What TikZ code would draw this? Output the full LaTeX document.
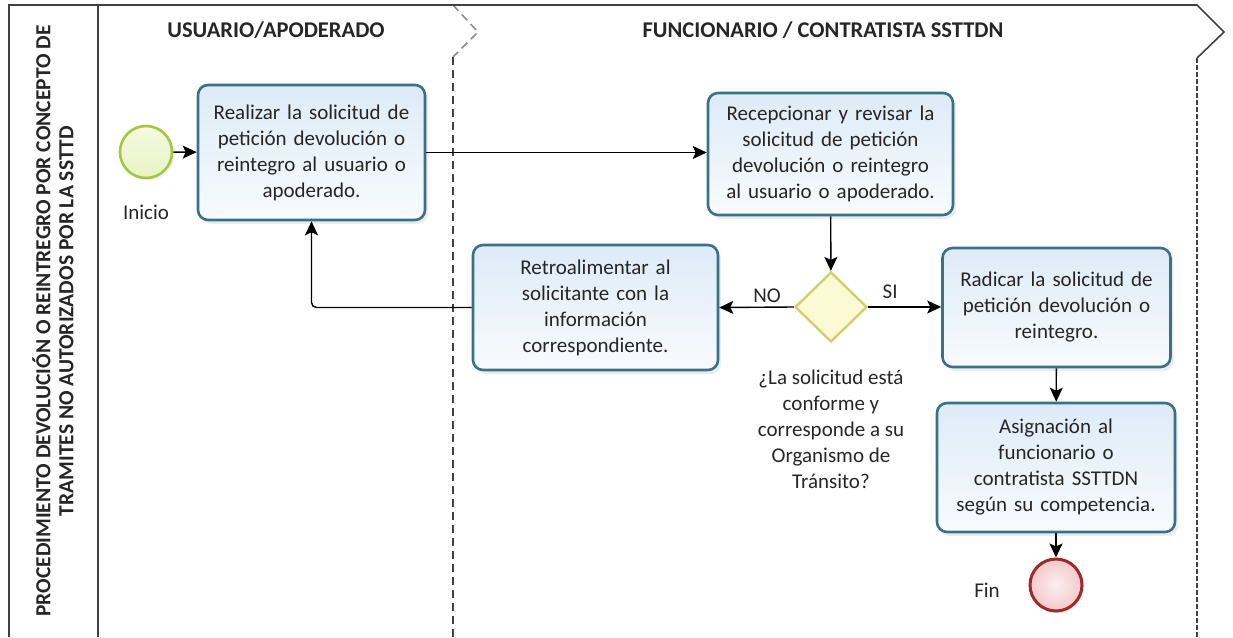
\documentclass[tikz,border=0pt]{standalone}
\usepackage{fontspec}
\setmainfont{Carlito}
\usetikzlibrary{arrows.meta,shapes.geometric,shadows}

\definecolor{taskline}{HTML}{3A7189}
\definecolor{taskfill}{HTML}{DDEBF7}
\definecolor{startline}{HTML}{A3C83C}
\definecolor{startfill}{HTML}{EAF3C4}
\definecolor{endline}{HTML}{9E2A2B}
\definecolor{endfill}{HTML}{F4C9C9}
\definecolor{gateline}{HTML}{D0D070}
\definecolor{gatefill}{HTML}{FBFAD4}
\definecolor{laneline}{HTML}{404040}

\begin{document}
\begin{tikzpicture}[x=1pt, y=-1pt,
  every node/.style={text=black!85, font=\fontsize{21}{26}\selectfont},
  task/.style={draw=taskline, line width=2.6pt, rounded corners=10pt,
    top color=taskfill, bottom color=white!80!taskfill, align=center,
    inner sep=0pt, text width=#1,
    drop shadow={opacity=0.15, shadow xshift=3pt, shadow yshift=-4pt}},
  flow/.style={line width=1.4pt, -{Stealth[length=14pt, width=13pt, inset=3pt]}},
  lane/.style={draw=laneline, line width=1.6pt},
  lanehead/.style={font=\bfseries\fontsize{22.5}{26}\selectfont}]
  \useasboundingbox (0,0) rectangle (1233,637);

  % pool and lanes
  \draw[lane] (9,637) -- (9,5) -- (453,5);
  \draw[lane] (98,5) -- (98,637);
  \draw[lane, draw=laneline!60, dash pattern=on 8pt off 5pt] (453,5) -- (478,32) -- (453,57);
  \draw[lane, dash pattern=on 8pt off 5pt] (453,57) -- (453,637);
  \draw[lane] (453,5) -- (1197,5) -- (1224,32) -- (1197,58);
  \draw[lane, line width=1.1pt, dash pattern=on 5pt off 2pt] (1197,58) -- (1197,637);

  \node[rotate=90, align=center, font=\bfseries\fontsize{21.5}{23}\selectfont] (titulo) at (53,321)
    {PROCEDIMIENTO DEVOLUCIÓN O REINTREGRO POR CONCEPTO DE\\TRAMITES NO AUTORIZADOS POR LA SSTTD};
  \node[lanehead] (usuario) at (276,30) {USUARIO/APODERADO};
  \node[lanehead] (funcionario) at (823,30) {FUNCIONARIO / CONTRATISTA SSTTDN};

  % events and gateway
  \node[circle, draw=startline, line width=2.6pt, top color=startfill!50!white, bottom color=startfill,
    minimum size=52pt, inner sep=0pt, drop shadow={opacity=0.12}] (inicio) at (146,152) {};
  \node (inicioL) at (146,212) {Inicio};
  \node[circle, draw=endline, line width=3pt, inner color=endfill!30!white, outer color=endfill,
    minimum size=52pt, inner sep=0pt, drop shadow={opacity=0.12}] (fin) at (1056,585) {};
  \node (finL) at (987,590) {Fin};
  \node[diamond, draw=gateline, line width=2.4pt, fill=gatefill, minimum width=72pt,
    minimum height=70pt, inner sep=0pt] (decision) at (831,307) {};
  \node[align=center] (pregunta) at (831,429)
    {¿La solicitud está\\conforme y\\corresponde a su\\Organismo de\\Tránsito?};

  % tasks
  \node[task=214pt, minimum width=227pt, minimum height=135pt] (solicitud) at (311.5,152.5)
    {Realizar la solicitud de\\petición devolución o\\reintegro al usuario o\\apoderado.};
  \node[task=232pt, minimum width=245pt, minimum height=122pt] (recepcion) at (830.5,154)
    {Recepcionar y revisar la\\solicitud de petición\\devolución o reintegro\\al usuario o apoderado.};
  \node[task=232pt, minimum width=245pt, minimum height=125pt] (retro) at (595.5,307.5)
    {Retroalimentar al\\solicitante con la\\información\\correspondiente.};
  \node[task=215pt, minimum width=228pt, minimum height=119pt] (radicar) at (1056.5,307.5)
    {Radicar la solicitud de\\petición devolución o\\reintegro.};
  \node[task=225pt, minimum width=238pt, minimum height=129pt] (asignar) at (1056,467.5)
    {Asignación al\\funcionario o\\contratista SSTTDN\\según su competencia.};

  % flows
  \draw[flow] (inicio) -- (solicitud);
  \draw[flow] (solicitud.east) -- (solicitud.east -| recepcion.west);
  \draw[flow] (recepcion) -- (decision);
  \draw[flow] (decision.west) -- (retro.east) node[pos=0.36, above=1pt] (no) {NO};
  \draw[flow] (decision.east) -- (radicar.west |- decision.east) node[pos=0.3, above=4pt] (si) {SI};
  \draw[flow, rounded corners=5pt] (retro.west) -| (solicitud.south);
  \draw[flow] (radicar) -- (asignar);
  \draw[flow] (asignar) -- (fin);
\end{tikzpicture}
\end{document}
